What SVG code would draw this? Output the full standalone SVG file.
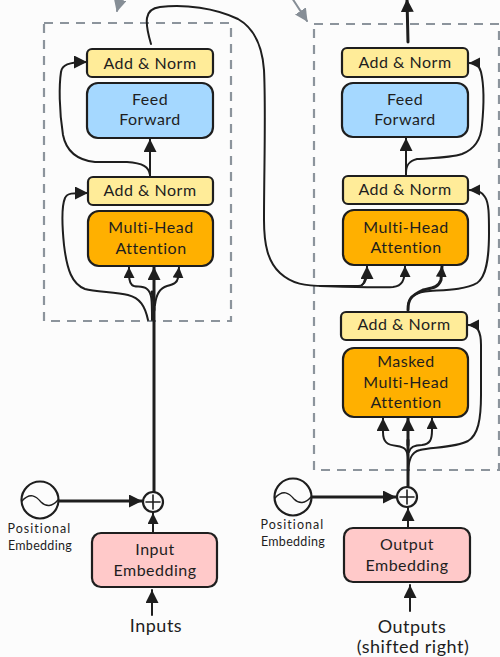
<svg xmlns="http://www.w3.org/2000/svg" width="500" height="657" viewBox="0 0 500 657">
<style>
text{font-family:"Lato","Liberation Sans",sans-serif;fill:#1e1e1e;font-size:16px;text-anchor:middle;letter-spacing:.5px}
.s{font-size:12.5px;letter-spacing:.3px}
.l{font-size:18px}
.n{stroke:#1e1e1e;stroke-width:2.2}
.y{fill:#ffec99}.b{fill:#a5d8ff}.o{fill:#ffb000}.p{fill:#ffc9c9}
.c{fill:none;stroke:#1e1e1e;stroke-width:2;stroke-linecap:round}
.t{stroke-width:3}
.h{fill:none;stroke:#868e96;stroke-width:2;stroke-linecap:round}
.d{fill:none;stroke:#8c949c;stroke-width:2.2;stroke-dasharray:9 7}
</style>
<defs>
<marker id="a" markerUnits="userSpaceOnUse" markerWidth="14" markerHeight="14" refX="13" refY="6.5" orient="auto"><path d="M0 0L13 6.5L0 13Z" fill="#1e1e1e"/></marker>
<marker id="m" markerUnits="userSpaceOnUse" markerWidth="12" markerHeight="12" refX="11" refY="5.5" orient="auto"><path d="M0 0L11 5.5L0 11Z" fill="#1e1e1e"/></marker>
<marker id="g" markerUnits="userSpaceOnUse" markerWidth="14" markerHeight="14" refX="12" refY="6.5" orient="auto"><path d="M0 0L13 6.5L0 13Z" fill="#868e96"/></marker>
</defs>
<rect width="500" height="657" fill="#fcfcfc"/>
<g id="encoder-frame"><rect class="d" x="44" y="23" width="187" height="298"/></g>
<g id="decoder-frame"><rect class="d" x="314" y="24" width="185" height="446"/></g>
<g id="connectors">
<path class="h" marker-end="url(#g)" d="M122 -8L117 11"/>
<path class="h" marker-end="url(#g)" d="M292 -2L307 21"/>
<path class="c" d="M151 44C148 34 146 25 147 18C148 11 152 8 160 7C185 4 215 8 238 19C252 27 262 42 264 70C266 110 264 170 264 220C264 245 268 262 280 273C292 284 305 286 325 286L358 286C363 286 364 283 365 279"/>
<path class="c" marker-end="url(#m)" d="M320 286C350 287 375 288 393 287C402 286 405 281 405 266"/>
<path class="c" marker-end="url(#a)" d="M362 285C366 282 367 278 367 266"/>
<path class="c t" marker-end="url(#a)" d="M408 42L407 -1"/>
<path class="c" marker-end="url(#a)" d="M150 176V139"/>
<path class="c" marker-end="url(#a)" d="M150 175C149 167 143 163 127 162L95 162C76 160 66 150 63 135C59 110 59 85 61 72C62 65 68 62 87 62"/>
<path class="c" marker-end="url(#a)" d="M148 320C145 306 140 298 128 295C115 292 95 292 85 289C72 284 67 270 64 245C62 225 62 205 65 198C67 193 72 193 88 193"/>
<path class="c t" d="M154 492V305C154 300 153 296 152 292"/>
<path class="c t" marker-end="url(#a)" d="M154 310V267"/>
<path class="c" marker-end="url(#m)" d="M152 320C152 300 152 293 147 289C142 285 135 288 132 285C129 282 129 278 129 267"/>
<path class="c" marker-end="url(#m)" d="M155 305C156 295 160 288 167 286C174 284 177 283 178 278L179 267"/>
<path class="c" marker-end="url(#m)" d="M153 532V513"/>
<path class="c" marker-end="url(#a)" d="M152 615V590"/>
<path class="c t" marker-end="url(#a)" d="M59 501L142 501"/>
<path class="c" marker-end="url(#a)" d="M406 175V138"/>
<path class="c" marker-end="url(#m)" d="M406 173C406 165 409 161 417 159C430 158 450 158 462 154C475 149 481 140 482 125C484 105 484 85 481 72C479 65 476 63 469 63"/>
<path class="c t" marker-end="url(#m)" d="M408 310C408 300 410 296 423 290C432 288 438 288 441 280L442 266"/>
<path class="c" marker-end="url(#m)" d="M408 305C410 296 416 292 430 291C445 290 465 290 477 283C486 277 489 260 489 233C489 215 489 203 485 197C482 192 478 190 469 190"/>
<path class="c" marker-end="url(#m)" d="M408 477C408 460 411 452 420 450C430 447 455 448 468 441C478 435 481 420 481 395L481 345C481 332 478 325 468 325"/>
<path class="c t" d="M408 486V440"/>
<path class="c t" marker-end="url(#a)" d="M408 445V418"/>
<path class="c" marker-end="url(#a)" d="M408 460C408 450 405 447 397 446C387 445 383 442 383 432L383 418"/>
<path class="c" marker-end="url(#m)" d="M409 452C410 447 414 445 422 445C430 444 432 440 432 430L432 418"/>
<path class="c" marker-end="url(#a)" d="M408 527V508"/>
<path class="c" marker-end="url(#a)" d="M410 611V585"/>
<path class="c t" marker-end="url(#a)" d="M312 497L396 497"/>
</g>
<g id="encoder-addnorm-top"><rect class="n y" x="87" y="49" width="126" height="28" rx="5"/><text x="150" y="69">Add &amp; Norm</text></g>
<g id="encoder-feedforward"><rect class="n b" x="87" y="83" width="126" height="55" rx="11"/><text x="150" y="105">Feed</text><text x="150" y="125">Forward</text></g>
<g id="encoder-addnorm"><rect class="n y" x="88" y="177" width="125" height="28" rx="5"/><text x="150" y="196">Add &amp; Norm</text></g>
<g id="encoder-attention"><rect class="n o" x="88" y="211" width="125" height="55" rx="11"/><text x="151" y="233">Multi-Head</text><text x="151" y="254">Attention</text></g>
<g id="decoder-addnorm-top"><rect class="n y" x="342" y="48" width="126" height="29" rx="5"/><text x="405" y="68">Add &amp; Norm</text></g>
<g id="decoder-feedforward"><rect class="n b" x="342" y="83" width="126" height="54" rx="11"/><text x="405" y="105">Feed</text><text x="405" y="125">Forward</text></g>
<g id="decoder-addnorm"><rect class="n y" x="343" y="176" width="125" height="28" rx="5"/><text x="405" y="195">Add &amp; Norm</text></g>
<g id="decoder-attention"><rect class="n o" x="343" y="210" width="125" height="55" rx="11"/><text x="406" y="233">Multi-Head</text><text x="406" y="253">Attention</text></g>
<g id="decoder-addnorm-masked"><rect class="n y" x="341" y="312" width="126" height="28" rx="5"/><text x="404" y="330">Add &amp; Norm</text></g>
<g id="decoder-masked-attention"><rect class="n o" x="343" y="348" width="125" height="69" rx="11"/><text x="406" y="367">Masked</text><text x="406" y="388">Multi-Head</text><text x="406" y="408">Attention</text></g>
<g id="input-embedding"><rect class="n p" x="92" y="533" width="125" height="54" rx="9"/><text x="155" y="555">Input</text><text x="155" y="576">Embedding</text></g>
<g id="output-embedding"><rect class="n p" x="344" y="528" width="126" height="54" rx="9"/><text x="407" y="550">Output</text><text x="407" y="571">Embedding</text></g>
<g id="encoder-positional"><circle cx="40" cy="500" r="18.5" fill="#fcfcfc" class="n"/><path class="c" style="stroke-width:1.4" d="M22 501C30 492 36 496 41 502C46 507 52 507 58 500"/><text class="s" x="39" y="533" textLength="63">Positional</text><text class="s" x="40" y="550">Embedding</text></g>
<g id="decoder-positional"><circle cx="293" cy="497" r="18.5" fill="#fcfcfc" class="n"/><path class="c" style="stroke-width:1.4" d="M275 498C283 489 289 493 294 499C299 504 305 504 311 497"/><text class="s" x="292" y="529" textLength="63">Positional</text><text class="s" x="293" y="546">Embedding</text></g>
<g id="encoder-add"><circle cx="153" cy="502" r="10" fill="#fcfcfc" class="n"/><path class="c" style="stroke-width:1.6" d="M146 502H160M153 495V509"/></g>
<g id="decoder-add"><circle cx="407" cy="497" r="10" fill="#fcfcfc" class="n"/><path class="c" style="stroke-width:1.6" d="M400 497H414M407 490V504"/></g>
<g id="inputs-label"><text class="l" x="156" y="632">Inputs</text></g>
<g id="outputs-label"><text class="l" x="412" y="633">Outputs</text><text class="l" x="413" y="653">(shifted right)</text></g>
</svg>
